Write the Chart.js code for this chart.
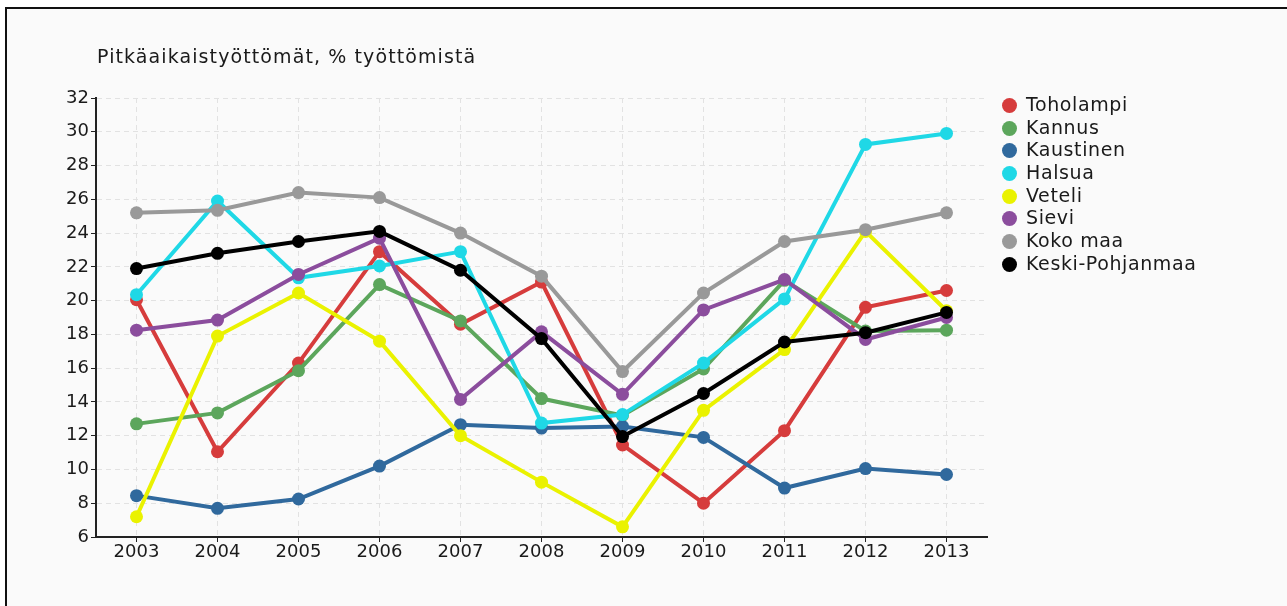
<!DOCTYPE html>
<html>
<head>
<meta charset="utf-8">
<script src="https://cdn.jsdelivr.net/npm/chart.js"></script>
<style>
  html, body { margin: 0; padding: 0; overflow: hidden; background: #fff; }
  #frame { position: absolute; left: 5px; top: 7px; width: 1300px; height: 620px; border: 2px solid #111; background: #fafafa; }
  #kaavio { position: absolute; left: 0; top: 0; }
  #otsikko { position: absolute; left: 97px; top: 45px; font: 19px "DejaVu Sans", sans-serif; line-height: 22px; letter-spacing: 1.1px; color: #1a1a1a; white-space: nowrap; }
  #selite { position: absolute; left: 1002px; top: 93px; font: 19px "DejaVu Sans", sans-serif; color: #1a1a1a; }
  #selite div { height: 22.7px; line-height: 22.7px; white-space: nowrap; letter-spacing: 0.6px; }
  #selite span { display: inline-block; width: 15px; height: 15px; border-radius: 50%; margin-right: 9px; vertical-align: -2px; }
</style>
</head>
<body>
<div id="frame"></div>
<canvas id="kaavio" width="1287" height="606"></canvas>
<div id="otsikko">Pitkäaikaistyöttömät, % työttömistä</div>
<div id="selite"></div>
<script>
// vuodet ja sarjat
const vuodet = ["2003", "2004", "2005", "2006", "2007", "2008", "2009", "2010", "2011", "2012", "2013"];
const yTicks = [6, 8, 10, 12, 14, 16, 18, 20, 22, 24, 26, 28, 30, 32];

const toholampi = [20.05, 11.05, 16.3, 22.9, 18.6, 21.1, 11.45, 8.0, 12.3, 19.6, 20.6];
const kannus = [12.7, 13.35, 15.85, 20.95, 18.8, 14.2, 13.2, 15.95, 21.2, 18.2, 18.25];
const kaustinen = [8.45, 7.7, 8.25, 10.2, 12.65, 12.45, 12.55, 11.9, 8.9, 10.05, 9.7];
const halsua = [20.35, 25.9, 21.35, 22.05, 22.9, 12.75, 13.25, 16.3, 20.1, 29.25, 29.9];
const veteli = [7.2, 17.9, 20.45, 17.6, 12.0, 9.25, 6.6, 13.5, 17.1, 24.1, 19.4];
const sievi = [18.25, 18.85, 21.55, 23.7, 14.15, 18.15, 14.45, 19.45, 21.25, 17.7, 19.0];
const kokoMaa = [25.2, 25.35, 26.4, 26.1, 24.0, 21.45, 15.8, 20.45, 23.5, 24.2, 25.2];
const keskiPohjanmaa = [21.9, 22.8, 23.5, 24.1, 21.8, 17.75, 11.95, 14.5, 17.55, 18.1, 19.3];

const sarjat = [
  { nimi: "Toholampi", data: toholampi, vari: "#d63c3c" },
  { nimi: "Kannus", data: kannus, vari: "#5ca65c" },
  { nimi: "Kaustinen", data: kaustinen, vari: "#30699d" },
  { nimi: "Halsua", data: halsua, vari: "#1fd8e6" },
  { nimi: "Veteli", data: veteli, vari: "#eaf200" },
  { nimi: "Sievi", data: sievi, vari: "#8b4d9d" },
  { nimi: "Koko maa", data: kokoMaa, vari: "#999999" },
  { nimi: "Keski-Pohjanmaa", data: keskiPohjanmaa, vari: "#000000" },
];

// selite
const selite = document.getElementById("selite");
sarjat.forEach((s) => {
  const rivi = document.createElement("div");
  rivi.innerHTML = '<span style="background:' + s.vari + '"></span>' + s.nimi;
  selite.appendChild(rivi);
});

const fontti = { family: "'DejaVu Sans', sans-serif", size: 18 };

new Chart(document.getElementById("kaavio"), {
  type: "line",
  data: {
    labels: vuodet,
    datasets: sarjat.map((s, i) => ({
      label: s.nimi,
      data: s.data,
      borderColor: s.vari,
      backgroundColor: s.vari,
      borderWidth: 4,
      pointRadius: 6.5,
      pointBorderWidth: 0,
      pointHoverRadius: 6.5,
      tension: 0,
      fill: false,
      order: sarjat.length - i,
    })),
  },
  options: {
    responsive: false,
    animation: false,
    layout: { padding: { top: 98, right: 300, bottom: 0, left: 0 } },
    scales: {
      x: {
        offset: true,
        afterFit: (scale) => { scale.height = 69; },
        grid: { color: "#e2e2e2", tickColor: "#222", tickLength: 5, offset: false },
        border: { color: "#222", width: 2, dash: [5, 4] },
        ticks: { color: "#1a1a1a", font: fontti, padding: 0, maxRotation: 0 },
      },
      y: {
        min: 6,
        max: 32,
        afterFit: (scale) => { scale.width = 96; },
        afterBuildTicks: (scale) => { scale.ticks = yTicks.map((v) => ({ value: v })); },
        grid: { color: "#e2e2e2", tickColor: "#222", tickLength: 5 },
        border: { color: "#222", width: 2, dash: [5, 4] },
        ticks: { color: "#1a1a1a", font: fontti, padding: 2 },
      },
    },
    plugins: {
      legend: { display: false },
      title: { display: false },
      tooltip: { enabled: false },
    },
  },
});
</script>
</body>
</html>
